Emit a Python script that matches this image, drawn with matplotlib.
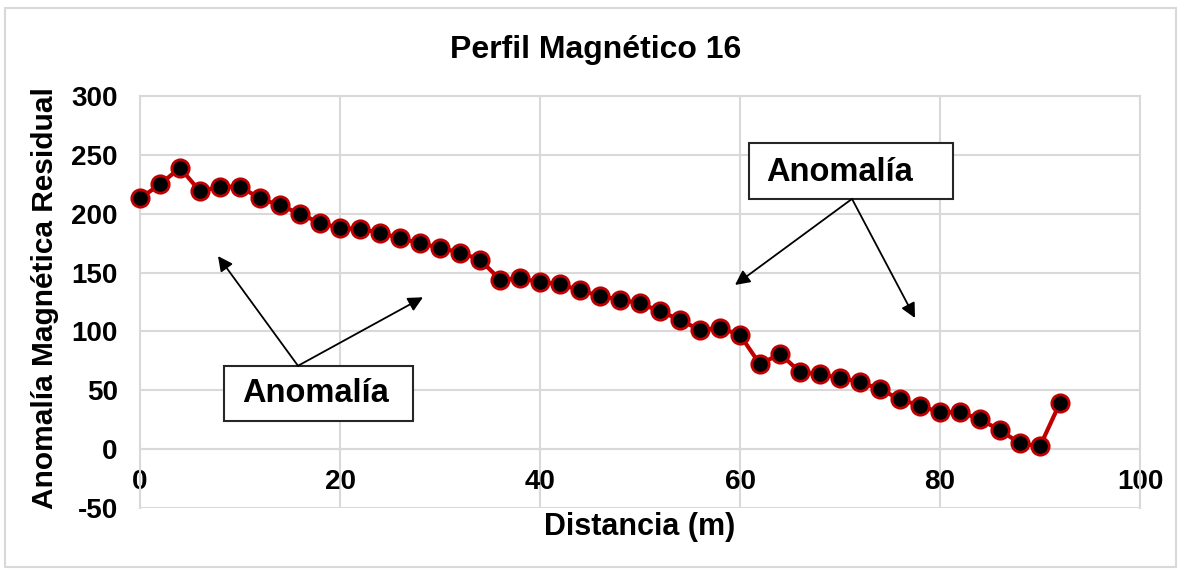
import matplotlib
matplotlib.use("Agg")
import matplotlib.pyplot as plt
from matplotlib.patches import Rectangle

# Data
distancia = list(range(0, 93, 2))
anomalia = [213, 225, 239, 219, 223, 223, 213, 207, 200, 192, 188, 187, 184, 179,
            175, 171, 167, 161, 144, 145, 142, 140, 135, 130, 127, 124, 117, 110,
            101, 103, 97, 72, 81, 65.5, 63.5, 60.6, 57.2, 50.7, 42.5, 36.8, 31.2,
            31.7, 25.2, 16.2, 4.8, 2.5, 39.4]

title = "Perfil Magnético 16"
xlabel = "Distancia (m)"
ylabel = "Anomalía Magnética Residual"
xticks = [0, 20, 40, 60, 80, 100]
yticks = [-50, 0, 50, 100, 150, 200, 250, 300]
label_text = "Anomalía"

# annotation boxes: (x0, y0, x1, y1), text position, arrow start, arrow tips
box_lower = (8.4, 24.1, 27.3, 70.8)
text_lower = (17.6, 47.0)
start_lower = (15.8, 70.8)
tips_lower = [(7.8, 164), (28.3, 129)]

box_upper = (60.9, 212.6, 81.3, 260.2)
text_upper = (70.0, 235.0)
start_upper = (71.2, 212.6)
tips_upper = [(59.5, 139.5), (77.5, 111.4)]

plt.rcParams['font.family'] = ['Liberation Sans', 'DejaVu Sans']
plt.rcParams['font.weight'] = 'bold'
plt.rcParams['axes.unicode_minus'] = False

fig = plt.figure(figsize=(11.81, 5.74), dpi=100)
ax = fig.add_axes([140/1181, 1 - 508/574, 1000/1181, 412/574])

grid_c = '#d9d9d9'
ax.set_xlim(0, 100)
ax.set_ylim(-50, 300)
ax.set_xticks(xticks)
ax.set_yticks(yticks)
ax.grid(True, color=grid_c, lw=1.5, zorder=0)
ax.set_axisbelow(True)
for s in ['top', 'right', 'left']:
    ax.spines[s].set_color(grid_c)
    ax.spines[s].set_linewidth(1.5)
ax.spines['bottom'].set_position(('data', 0))
ax.spines['bottom'].set_color(grid_c)
ax.spines['bottom'].set_linewidth(1.5)
ax.tick_params(axis='both', length=0, labelsize=20)
ax.tick_params(axis='x', pad=14)
ax.tick_params(axis='y', pad=16)
for lab in ax.get_xticklabels() + ax.get_yticklabels():
    lab.set_fontweight('bold')

ax.plot(distancia, anomalia, color='#c00000', lw=3, marker='o',
        markersize=12.5, markerfacecolor='black', markeredgecolor='#c00000',
        markeredgewidth=2, zorder=3, clip_on=False)

fig.text(596/1181, 1 - 50/574, title,
         ha='center', va='center', fontsize=23, fontweight='bold')
fig.text(640/1181, 1 - 527/574, xlabel, ha='center',
         va='center', fontsize=22, fontweight='bold')
fig.text(45/1181, 1 - 298/574, ylabel, ha='center', va='center', rotation=90,
         fontsize=21.5, fontweight='bold')

for box, tpos, start, tips in [(box_lower, text_lower, start_lower, tips_lower),
                               (box_upper, text_upper, start_upper, tips_upper)]:
    x0, y0, x1, y1 = box
    ax.add_patch(Rectangle((x0, y0), x1 - x0, y1 - y0, facecolor='white',
                           edgecolor='#262626', lw=1.5, zorder=4))
    ax.text(tpos[0], tpos[1], label_text, ha='center', va='center',
            fontsize=23.5, fontweight='bold', zorder=5)
    for tip in tips:
        ax.annotate('', xy=tip, xytext=start,
                    arrowprops=dict(arrowstyle='-|>', color='black', lw=1.3,
                                    mutation_scale=22, shrinkA=0, shrinkB=0),
                    zorder=4)

fig.add_artist(Rectangle((5/1181, 1 - 567/574), 1171/1181, 559/574,
                         transform=fig.transFigure, fill=False,
                         edgecolor=grid_c, lw=1.5))

fig.savefig('out.png', dpi=100)
